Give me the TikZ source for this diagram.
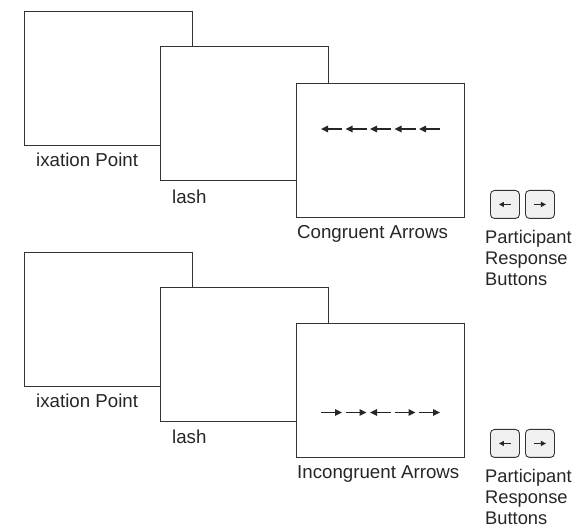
\documentclass[tikz,border=0pt]{standalone}
\usepackage{fontspec}
\setmainfont{Liberation Sans}
\usetikzlibrary{arrows.meta}
\begin{document}
\begin{tikzpicture}[x=1pt,y=-1pt,
  screen/.style={draw=black!80, line width=1.1pt, fill=white,
    minimum width=168pt, minimum height=134pt, inner sep=0pt, anchor=north west},
  caption/.style={anchor=west, inner sep=0pt, text=black!85,
    font=\fontsize{18.7}{22}\selectfont},
  respbtn/.style={draw=black!80, line width=0.9pt, fill=black!6, rounded corners=4pt,
    minimum width=29pt, minimum height=28pt, inner sep=0pt, anchor=north west},
  resptext/.style={anchor=north west, inner sep=0pt, align=left, text=black!85,
    font=\fontsize{18.3}{21.2}\selectfont},
  flank/.style={line width=1.5pt, draw=black!85, -{Triangle[length=7pt,width=6.5pt]}},
  btnarrow/.style={line width=1.1pt, draw=black!85, -{Triangle[length=5pt,width=5pt]}}
]
\useasboundingbox (0,0) rectangle (579,529);

% ---------- congruent trial ----------
\node[screen] (fixA) at (24,11) {};
\node[caption] (fixAlab) at (36,160) {ixation Point};
\node[screen] (flashA) at (160,46) {};
\node[caption] (flashAlab) at (172,197) {lash};
\node[screen] (stimA) at (296,83) {};
\node[caption] (stimAlab) at (297,234) {Congruent Arrows};
\foreach \x in {321,345.5,370,394.5,419}
  \draw[flank] (\x+21,129) -- (\x,129);

\node[respbtn] (leftA) at (490,190) {};
\node[respbtn] (rightA) at (525,190) {};
\draw[btnarrow] ([xshift=6pt]leftA.center) -- ([xshift=-6pt]leftA.center);
\draw[btnarrow] ([xshift=-6pt]rightA.center) -- ([xshift=6pt]rightA.center);
\node[resptext] (respA) at (485,230) {Participant\\Response\\Buttons};

% ---------- incongruent trial ----------
\node[screen] (fixB) at (24,252) {};
\node[caption] (fixBlab) at (36,401) {ixation Point};
\node[screen] (flashB) at (160,287) {};
\node[caption] (flashBlab) at (172,437) {lash};
\node[screen] (stimB) at (296,323) {};
\node[caption] (stimBlab) at (297,474) {Incongruent Arrows};
\foreach \x in {321,345.5,394.5,419}
  \draw[flank] (\x,412.5) -- (\x+21,412.5);
\draw[flank] (391,412.5) -- (370,412.5);

\node[respbtn] (leftB) at (490,429) {};
\node[respbtn] (rightB) at (525,429) {};
\draw[btnarrow] ([xshift=6pt]leftB.center) -- ([xshift=-6pt]leftB.center);
\draw[btnarrow] ([xshift=-6pt]rightB.center) -- ([xshift=6pt]rightB.center);
\node[resptext] (respB) at (485,469) {Participant\\Response\\Buttons};
\end{tikzpicture}
\end{document}
